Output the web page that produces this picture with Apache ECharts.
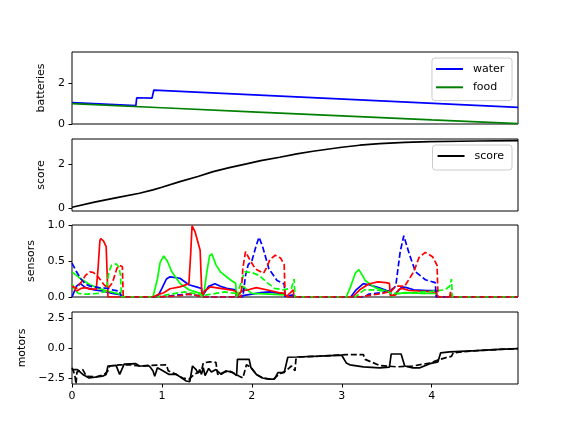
<!DOCTYPE html>
<html><head><meta charset="utf-8">
<script src="https://cdn.jsdelivr.net/npm/echarts@6/dist/echarts.min.js"></script>
<style>html,body{margin:0;padding:0;background:#fff}#c{width:576px;height:432px}</style>
</head><body><div id="c"></div>
<script>
// ---- data (time in x, values in y) ----
const xTicks = [0, 1, 2, 3, 4];
const water = [[0,1.05],[0.71,0.9],[0.72,1.29],[0.89,1.27],[0.91,1.67],[4.96,0.82]];
const food = [[0,1.0],[1,0.8],[2,0.6],[3,0.4],[4,0.2],[4.96,0.02]];
const score = [[0,0.05],[0.25,0.28],[0.5,0.48],[0.75,0.68],[0.9,0.83],[1.0,0.95],[1.2,1.2],[1.4,1.43],[1.57,1.65],[1.75,1.83],[1.94,2.0],[2.1,2.15],[2.31,2.3],[2.5,2.45],[2.68,2.57],[3.0,2.75],[3.2,2.84],[3.42,2.91],[3.7,2.97],[3.98,3.0],[4.5,3.03],[4.96,3.05]];
const sensorBlue = [[0,0],[0.05,0.15],[0.09,0.19],[0.15,0.13],[0.25,0.1],[0.35,0.08],[0.45,0.05],[0.55,0.03],[0.57,0],[0.95,0],[1.0,0.12],[1.05,0.25],[1.09,0.28],[1.2,0.26],[1.3,0.17],[1.41,0.13],[1.44,0.12],[1.45,0],[1.47,0.05],[1.52,0.15],[1.59,0.185],[1.65,0.15],[1.72,0.12],[1.82,0.1],[1.83,0],[1.9,0.02],[2.0,0.04],[2.1,0.06],[2.2,0.07],[2.3,0.05],[2.37,0.04],[2.38,0],[2.45,0.03],[2.47,0],[3.1,0],[3.16,0.1],[3.24,0.185],[3.3,0.17],[3.41,0.13],[3.5,0.09],[3.54,0.08],[3.55,0],[3.6,0.05],[3.67,0.14],[3.72,0.13],[3.8,0.1],[3.95,0.09],[4.05,0.09],[4.06,0],[4.96,0]];
const sensorGreen = [[0,0.35],[0.05,0.3],[0.1,0.25],[0.2,0.17],[0.3,0.12],[0.4,0.08],[0.5,0.05],[0.55,0.03],[0.57,0],[0.9,0],[0.95,0.25],[0.98,0.48],[1.02,0.57],[1.06,0.5],[1.11,0.35],[1.2,0.19],[1.3,0.1],[1.4,0.06],[1.44,0.05],[1.45,0],[1.47,0.08],[1.5,0.35],[1.53,0.57],[1.555,0.6],[1.6,0.45],[1.65,0.35],[1.76,0.24],[1.82,0.19],[1.83,0],[1.87,0.05],[1.9,0.15],[1.95,0.1],[2.0,0.05],[2.2,0.04],[2.37,0.03],[2.38,0],[3.05,0],[3.1,0.15],[3.15,0.33],[3.19,0.38],[3.23,0.3],[3.26,0.23],[3.37,0.13],[3.5,0.08],[3.54,0.07],[3.55,0],[3.6,0.04],[3.7,0.06],[3.9,0.05],[4.05,0.05],[4.06,0],[4.96,0]];
const sensorRed = [[0,0.17],[0.05,0.08],[0.1,0.12],[0.15,0.13],[0.2,0.11],[0.27,0.11],[0.29,0.4],[0.31,0.78],[0.32,0.81],[0.35,0.78],[0.38,0.7],[0.39,0.68],[0.4,0],[0.9,0],[0.95,0.03],[1.02,0.06],[1.09,0.115],[1.2,0.14],[1.3,0.185],[1.32,0.6],[1.335,0.99],[1.37,0.9],[1.425,0.65],[1.44,0.63],[1.445,0],[1.47,0.08],[1.54,0.14],[1.65,0.12],[1.76,0.1],[1.82,0.08],[1.83,0],[1.86,0.05],[1.9,0.09],[1.96,0.1],[2.05,0.13],[2.2,0.09],[2.3,0.06],[2.37,0.05],[2.38,0],[2.46,0.1],[2.47,0],[3.12,0],[3.2,0.1],[3.3,0.18],[3.4,0.21],[3.49,0.2],[3.53,0.19],[3.54,0.02],[3.6,0.03],[3.63,0.1],[3.67,0.12],[3.75,0.09],[3.9,0.08],[4.05,0.07],[4.06,0],[4.2,0],[4.21,0.07],[4.22,0],[4.96,0]];
const sensorBlueDash = [[0,0.47],[0.05,0.35],[0.1,0.25],[0.15,0.18],[0.2,0.15],[0.3,0.13],[0.4,0.12],[0.45,0.1],[0.53,0.08],[0.55,0],[0.95,0],[1.05,0.01],[1.2,0.03],[1.3,0.04],[1.4,0.02],[1.44,0],[1.9,0],[1.93,0.3],[1.96,0.45],[2.0,0.5],[2.05,0.72],[2.08,0.83],[2.12,0.7],[2.19,0.39],[2.28,0.23],[2.36,0.18],[2.37,0],[3.25,0],[3.3,0.04],[3.45,0.06],[3.55,0.1],[3.6,0.15],[3.65,0.63],[3.69,0.85],[3.75,0.6],[3.82,0.35],[3.93,0.24],[4.04,0.2],[4.05,0],[4.96,0]];
const sensorGreenDash = [[0,0.18],[0.03,0.1],[0.07,0.05],[0.15,0.04],[0.3,0.05],[0.38,0.08],[0.41,0.35],[0.44,0.44],[0.49,0.46],[0.52,0.42],[0.54,0.3],[0.55,0],[0.95,0],[1.05,0.03],[1.15,0.05],[1.25,0.07],[1.35,0.05],[1.44,0.03],[1.45,0],[1.5,0.03],[1.6,0.05],[1.7,0.07],[1.82,0.05],[1.83,0],[1.88,0.2],[1.92,0.35],[2.0,0.34],[2.08,0.3],[2.17,0.2],[2.25,0.12],[2.35,0.1],[2.44,0.12],[2.47,0.25],[2.48,0],[3.15,0],[3.2,0.05],[3.25,0.1],[3.35,0.1],[3.5,0.08],[3.55,0.05],[3.6,0.05],[3.8,0.06],[4.0,0.08],[4.15,0.1],[4.2,0.15],[4.22,0.25],[4.23,0],[4.96,0]];
const sensorRedDash = [[0,0.15],[0.05,0.12],[0.1,0.2],[0.15,0.3],[0.2,0.35],[0.24,0.34],[0.29,0.28],[0.35,0.18],[0.4,0.12],[0.45,0.2],[0.5,0.4],[0.53,0.44],[0.56,0.42],[0.57,0],[0.95,0],[1.1,0.01],[1.2,0.02],[1.3,0.04],[1.4,0.02],[1.44,0],[1.88,0],[1.9,0.4],[1.93,0.63],[1.98,0.51],[2.04,0.39],[2.13,0.33],[2.17,0.42],[2.2,0.52],[2.26,0.58],[2.32,0.54],[2.36,0.45],[2.37,0],[3.2,0],[3.3,0.02],[3.45,0.05],[3.55,0.08],[3.6,0.15],[3.7,0.15],[3.75,0.25],[3.8,0.35],[3.86,0.55],[3.93,0.62],[4.01,0.56],[4.06,0.44],[4.07,0],[4.96,0]];
const motorSolid = [[0,-1.8],[0.06,-1.8],[0.12,-2.2],[0.19,-2.5],[0.34,-2.35],[0.38,-2.2],[0.4,-1.5],[0.49,-1.45],[0.53,-2.2],[0.55,-2.2],[0.58,-1.35],[0.71,-1.3],[0.75,-1.5],[0.86,-1.5],[0.9,-1.9],[0.92,-2.35],[0.95,-1.65],[1.01,-1.9],[1.08,-2.2],[1.16,-2.2],[1.2,-2.4],[1.27,-2.75],[1.31,-2.8],[1.34,-1.5],[1.38,-1.8],[1.4,-2.1],[1.42,-1.8],[1.44,-2.2],[1.46,-1.65],[1.48,-2.3],[1.52,-1.7],[1.55,-2.0],[1.6,-1.8],[1.66,-2.2],[1.71,-1.9],[1.79,-2.05],[1.83,-2.3],[1.84,-0.95],[1.97,-0.95],[1.99,-1.65],[2.05,-2.2],[2.12,-2.5],[2.2,-2.6],[2.25,-2.6],[2.29,-2.05],[2.36,-2.05],[2.38,-1.9],[2.4,-0.77],[2.5,-0.75],[2.75,-0.68],[3.0,-0.6],[3.05,-1.24],[3.09,-1.4],[3.24,-1.57],[3.42,-1.65],[3.53,-1.6],[3.55,-0.5],[3.66,-0.5],[3.7,-1.5],[3.79,-1.65],[3.87,-1.65],[3.98,-1.3],[4.07,-1.15],[4.1,-0.4],[4.2,-0.33],[4.5,-0.22],[4.75,-0.12],[4.96,-0.05]];
const motorDash = [[0,-1.65],[0.03,-2.2],[0.045,-3.0],[0.055,-2.0],[0.09,-1.9],[0.12,-1.8],[0.16,-2.35],[0.27,-2.4],[0.36,-2.2],[0.4,-1.9],[0.42,-1.5],[0.53,-1.4],[0.64,-1.4],[0.75,-1.5],[0.86,-1.45],[1.05,-1.4],[1.07,-1.9],[1.16,-2.2],[1.23,-2.5],[1.3,-2.6],[1.36,-2.2],[1.44,-1.9],[1.46,-1.25],[1.53,-1.15],[1.6,-1.2],[1.62,-2.2],[1.68,-2.05],[1.75,-1.9],[1.86,-2.35],[1.9,-2.5],[1.94,-1.4],[1.99,-1.6],[2.05,-2.2],[2.12,-2.5],[2.2,-2.6],[2.25,-2.55],[2.3,-2.2],[2.38,-1.9],[2.44,-1.5],[2.48,-1.9],[2.49,-0.95],[2.52,-0.75],[2.75,-0.68],[3.0,-0.58],[3.05,-0.55],[3.24,-0.55],[3.26,-0.95],[3.42,-1.45],[3.61,-1.57],[3.79,-1.5],[3.98,-1.25],[4.09,-0.95],[4.16,-0.8],[4.22,-0.7],[4.24,-0.4],[4.5,-0.22],[4.75,-0.12],[4.96,-0.05]];
const yNames = ['batteries', 'score', 'sensors', 'motors'];
const yRanges = [[0, 3.54], [-0.12, 3.12], [0, 1], [-3, 3]];
const yTicks = [[0, 2], [0, 2], [0, 0.5, 1], [-2.5, 0, 2.5]];

// ---- layout / style ----
const FONT = 'DejaVu Sans';
const tops = [52, 139, 225, 312];
const nameGaps = [22, 22, 33, 41];
const LW = 1.7;
const DASH = [6, 2.7];
const chart = echarts.init(document.getElementById('c'), null, {renderer: 'canvas'});

const grids = tops.map(t => ({left: 72, right: 58, top: t, height: 72, show: true, borderColor: '#000', borderWidth: 1, backgroundColor: 'transparent', containLabel: false}));
const xAxes = tops.map((t, i) => ({
  type: 'value', gridIndex: i, min: 0, max: 4.96, position: 'bottom',
  axisLine: {show: false, onZero: false}, splitLine: {show: false},
  axisTick: {show: i === 3, length: 3.5, lineStyle: {color: '#000'}, customValues: xTicks},
  axisLabel: {show: i === 3, customValues: xTicks, color: '#000', fontFamily: FONT, fontSize: 11, margin: 7, formatter: v => String(v)}
}));
const fmt = (i) => (v) => {
  if (i <= 1) return String(v);
  return v.toFixed(1).replace('-', '\u2212');
};
const yAxes = tops.map((t, i) => ({
  type: 'value', gridIndex: i, min: yRanges[i][0], max: yRanges[i][1], position: 'left',
  name: yNames[i], nameLocation: 'middle', nameGap: nameGaps[i],
  nameTextStyle: {color: '#000', fontFamily: FONT, fontSize: 11},
  axisLine: {show: false, onZero: false}, splitLine: {show: false},
  axisTick: {show: true, length: 3.5, lineStyle: {color: '#000'}, customValues: yTicks[i]},
  axisLabel: {customValues: yTicks[i], color: '#000', fontFamily: FONT, fontSize: 11, margin: 7, formatter: fmt(i)}
}));

function line(name, data, color, gi, dashed) {
  return {
    name: name, type: 'line', data: data, xAxisIndex: gi, yAxisIndex: gi,
    symbol: 'none', smooth: false, animation: false, silent: true,
    lineStyle: {color: color, width: LW, type: dashed ? DASH : 'solid'},
    itemStyle: {color: color}
  };
}

const legendBase = {
  orient: 'vertical', icon: 'rect', itemWidth: 27, itemHeight: 2, itemGap: 5.3,
  backgroundColor: 'rgba(255,255,255,0.8)', borderColor: '#cccccc', borderWidth: 1, borderRadius: 3,
  textStyle: {color: '#000', fontFamily: FONT, fontSize: 11, lineHeight: 13, padding: [0, 0, 0, 5]},
  selectedMode: false
};

chart.setOption({
  animation: false,
  backgroundColor: '#fff',
  grid: grids,
  xAxis: xAxes,
  yAxis: yAxes,
  legend: [
    Object.assign({}, legendBase, {data: ['water', 'food'], right: 64, top: 58, padding: [4.5, 7.7, 6.8, 4]}),
    Object.assign({}, legendBase, {data: ['score'], right: 64, top: 145, padding: [4.5, 7.9, 7.5, 5]})
  ],
  series: [
    line('water', water, '#0000ff', 0, false),
    line('food', food, '#008000', 0, false),
    line('score', score, '#000000', 1, false),
    line('s1', sensorBlue, '#0000ff', 2, false),
    line('s2', sensorGreen, '#00ff00', 2, false),
    line('s3', sensorRed, '#ff0000', 2, false),
    line('s4', sensorBlueDash, '#0000ff', 2, true),
    line('s5', sensorGreenDash, '#00ff00', 2, true),
    line('s6', sensorRedDash, '#ff0000', 2, true),
    line('m1', motorSolid, '#000000', 3, false),
    line('m2', motorDash, '#000000', 3, true)
  ]
});
</script>
</body></html>
